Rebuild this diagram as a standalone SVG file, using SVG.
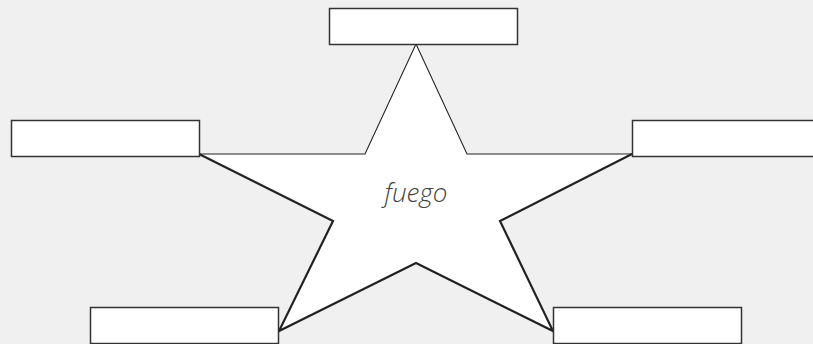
<svg xmlns="http://www.w3.org/2000/svg" width="813" height="344" viewBox="0 0 813 344">
<style>
.box{fill:#fff;stroke:#333;stroke-width:1.5}
.thin{fill:none;stroke:#222;stroke-width:1.1;stroke-linejoin:miter}
.thick{fill:none;stroke:#222;stroke-width:2.2;stroke-linejoin:miter}
.lbl{font-family:"Open Sans","Noto Sans",sans-serif;font-style:italic;font-weight:300;font-size:26px;fill:#444}
</style>
<rect width="813" height="344" fill="#f0f0f0"/>
<g id="star">
<polygon points="416,44 365,154 199,154 333,221 279,331 416,263 553,331 500,221 632,154 467,154" fill="#fff"/>
<path class="thin" d="M199,154 L365,154 L416,44 L467,154 L632,154"/>
<path class="thick" d="M199,154 L333,221 L279,331 L416,263 L553,331 L500,221 L632,154"/>
<text class="lbl" x="416" y="202" text-anchor="middle">fuego</text>
</g>
<g id="box-top"><rect class="box" x="329.5" y="8.5" width="188" height="36"/></g>
<g id="box-left"><rect class="box" x="11.5" y="120.5" width="188" height="36"/></g>
<g id="box-right"><rect class="box" x="632.5" y="120.5" width="188" height="36"/></g>
<g id="box-bottom-left"><rect class="box" x="90.5" y="307.5" width="188" height="36"/></g>
<g id="box-bottom-right"><rect class="box" x="553.5" y="307.5" width="188" height="36"/></g>
</svg>
